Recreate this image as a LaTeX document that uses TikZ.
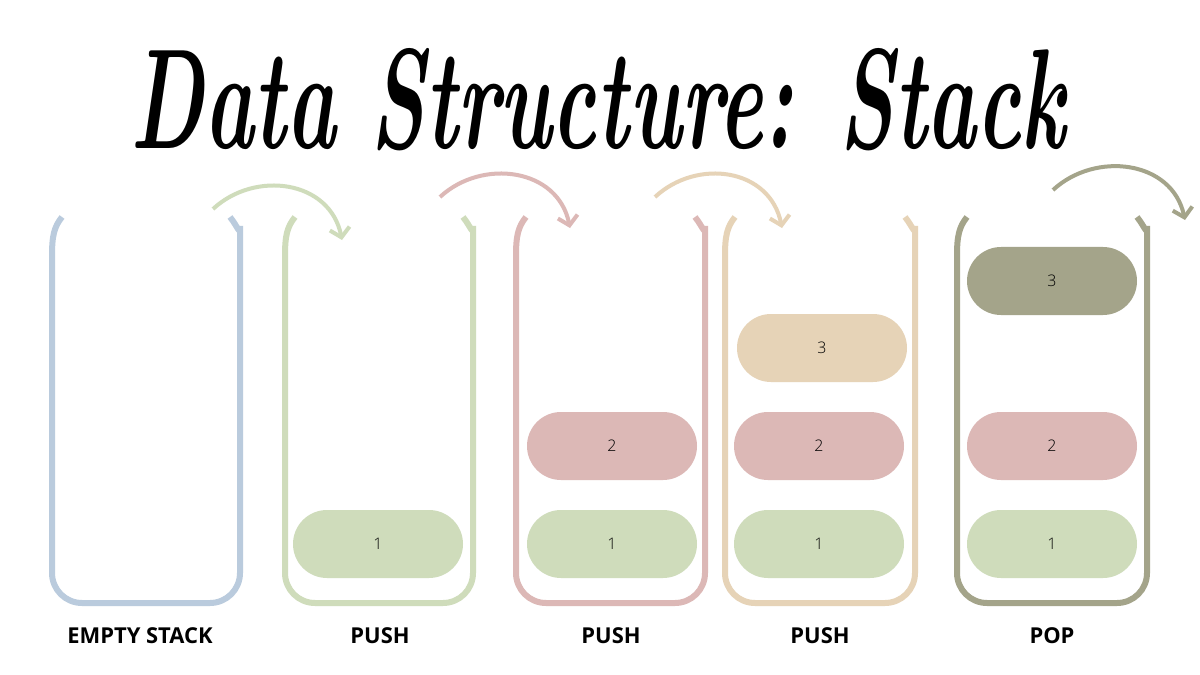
\documentclass[tikz,border=0pt]{standalone}
\usepackage{fontspec}
\setsansfont{Open Sans}
\newfontfamily\lightfont{Open Sans Light}
\usetikzlibrary{arrows.meta}
\definecolor{cblue}{HTML}{BACBDD}
\definecolor{cgreen}{HTML}{CFDCBB}
\definecolor{cred}{HTML}{DCB8B6}
\definecolor{cbeige}{HTML}{E6D3B7}
\definecolor{colive}{HTML}{A4A48A}
\newcommand\stackbox[3]{%
 \draw[#3,line width=6bp] ({#1+10},217) .. controls ({#1+2},227) and (#1,236) .. (#1,256)
   [rounded corners=30bp] -- (#1,603) -- (#2,603) -- (#2,256) [sharp corners]
   .. controls (#2,236) and ({#2-2},227) .. ({#2-10},217);}
\tikzset{
 pill/.style={fill=#1,minimum width=170bp,minimum height=68bp,rounded corners=34bp,inner sep=0pt,text=black,font=\lightfont\fontsize{16}{16}\selectfont},
 caplabel/.style={font=\sffamily\bfseries\fontsize{22}{22}\selectfont},
 bend/.style={line width=4bp,draw=#1,-{Straight Barb[length=9bp,width=20bp]}}
}
\begin{document}
\begin{tikzpicture}[x=1bp,y=-1bp]
\useasboundingbox (0,0) rectangle (1200,675);
\fill[white] (0,0) rectangle (1200,675);
\node (title) at (598,100) {\resizebox{935bp}{100bp}{\bfseries\itshape Data Structure: Stack}};
\stackbox{52}{240}{cblue}
\stackbox{285}{473}{cgreen}
\stackbox{516}{705}{cred}
\stackbox{725}{915}{cbeige}
\stackbox{957}{1147}{colive}
\node[pill=cgreen] (g1) at (378,544) {1};
\node[pill=cgreen] (r1) at (612,544) {1};
\node[pill=cred] (r2) at (612,446) {2};
\node[pill=cgreen] (b1) at (819,544) {1};
\node[pill=cred] (b2) at (819,446) {2};
\node[pill=cbeige] (b3) at (822,348) {3};
\node[pill=cgreen] (o1) at (1052,544) {1};
\node[pill=cred] (o2) at (1052,446) {2};
\node[pill=colive] (o3) at (1052,281) {3};
\node[caplabel] (l1) at (140,636) {EMPTY STACK};
\node[caplabel] (l2) at (380,636) {PUSH};
\node[caplabel] (l3) at (611,636) {PUSH};
\node[caplabel] (l4) at (820,636) {PUSH};
\node[caplabel] (l5) at (1052,636) {POP};
\coordinate (a1s) at (213,209); \coordinate (a1e) at (342,240);
\coordinate (a2s) at (440,197); \coordinate (a2e) at (570,228);
\coordinate (a3s) at (655,197); \coordinate (a3e) at (782,228);
\coordinate (a4s) at (1053,190); \coordinate (a4e) at (1185,220);
\draw[bend=cgreen] (a1s) .. controls (255,170) and (330,180) .. (a1e);
\draw[bend=cred] (a2s) .. controls (482,158) and (558,168) .. (a2e);
\draw[bend=cbeige] (a3s) .. controls (697,158) and (770,168) .. (a3e);
\draw[bend=colive] (a4s) .. controls (1095,151) and (1172,160) .. (a4e);
\end{tikzpicture}
\end{document}
